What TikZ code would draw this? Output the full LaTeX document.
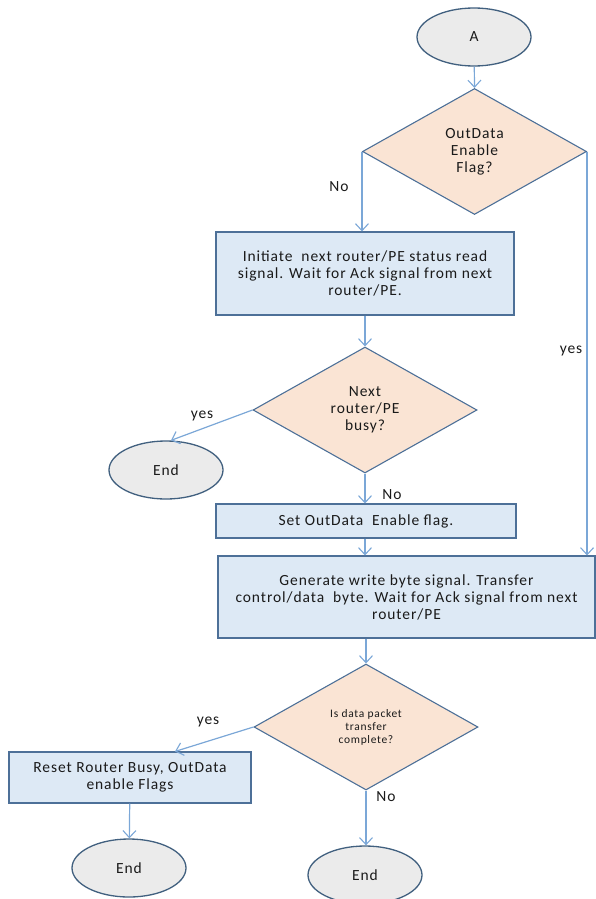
\documentclass[tikz,border=0pt]{standalone}
\usepackage{fontspec}
\setmainfont{Carlito}
\newfontfamily\flowfont[LetterSpace=6]{Carlito}
\usetikzlibrary{shapes.geometric,arrows.meta}
\definecolor{flowline}{HTML}{7BA7D7}
\definecolor{edgeblue}{HTML}{4D7098}
\definecolor{ovaledge}{HTML}{41607F}
\definecolor{boxfill}{HTML}{DDE9F5}
\definecolor{decfill}{HTML}{FAE4D4}
\definecolor{ovalfill}{HTML}{EBEBEB}
\definecolor{txt}{HTML}{1A1A1A}
\tikzset{
  bodyfont/.style={font=\flowfont\fontsize{15.5}{17}\selectfont},
  terminal/.style={ellipse, draw=ovaledge, line width=1.3pt, fill=ovalfill,
    minimum width=114pt, minimum height=58pt, inner sep=0pt,
    bodyfont, text=txt},
  decision/.style={diamond, draw=edgeblue, line width=1.1pt, fill=decfill,
    minimum width=224pt, minimum height=126pt, inner sep=0pt, aspect=1.78,
    align=center, bodyfont, text=txt},
  process/.style={rectangle, draw=edgeblue, line width=1.1pt, fill=boxfill,
    inner sep=0pt, align=center, bodyfont, text=txt},
  flow/.style={draw=flowline, line width=1.2pt,
    -{Straight Barb[length=7pt,width=13pt,line width=1.1pt]}},
  tag/.style={bodyfont, text=txt, inner sep=0pt}
}
\begin{document}
\begin{tikzpicture}[x=1pt,y=-1pt]
\useasboundingbox (0,0) rectangle (596,899);

% terminals
\node[terminal] (a) at (474,37) {A};
\node[terminal] (e1) at (166,470) {End};
\node[terminal] (e2) at (129,868) {End};
\node[terminal] (e3) at (365,875) {End};

% decisions
\node[decision] (d1) at (474.5,151.5) {OutData\\Enable\\Flag?};
\node[decision] (d2) at (365,410) {Next\\router/PE\\busy?};
\node[decision, font=\flowfont\fontsize{11.5}{13}\selectfont] (d3) at (366,727)
  {Is data packet\\transfer\\complete?};

% process boxes
\node[process, minimum width=298pt, minimum height=83pt] (b1) at (365,273.5)
  {Initiate\ \ next router/PE status read\\signal. Wait for Ack signal from next\\router/PE.};
\node[process, minimum width=300pt, minimum height=34pt] (b3) at (366,521)
  {Set OutData\ \ Enable flag.};
\node[process, minimum width=377pt, minimum height=82pt] (b4) at (406.5,597)
  {Generate write byte signal. Transfer\\control/data\ \ byte. Wait for Ack signal from next\\router/PE};
\node[process, minimum width=242pt, minimum height=51pt] (b5) at (130,777.5)
  {Reset Router Busy, OutData\\enable Flags};

% connectors
\draw[flow] (a) -- (d1.north);
\draw[flow] (d1.west) -- (d1.west |- b1.north);
\draw[flow] (d1.east) -- (d1.east |- b4.north);
\draw[flow] (b1) -- (d2.north);
\draw[flow] (d2.west) -- ([xshift=5pt]e1.north);
\draw[flow] (d2.south) -- (b3.north -| d2.south);
\draw[flow] (b3.south -| d2.south) -- (b4.north -| d2.south);
\draw[flow] (b4.south -| d3.north) -- (d3.north);
\draw[flow] (d3.west) -- ([xshift=45pt]b5.north);
\draw[flow] (b5) -- (e2);
\draw[flow] (d3.south) -- (e3.north -| d3.south);

% branch labels
\node[tag] (l1) at (339,187) {No};
\node[tag] (l2) at (571,351) {yes};
\node[tag] (l3) at (202,416) {yes};
\node[tag] (l4) at (392,495) {No};
\node[tag] (l5) at (208,722) {yes};
\node[tag] (l6) at (386,797) {No};
\end{tikzpicture}
\end{document}
